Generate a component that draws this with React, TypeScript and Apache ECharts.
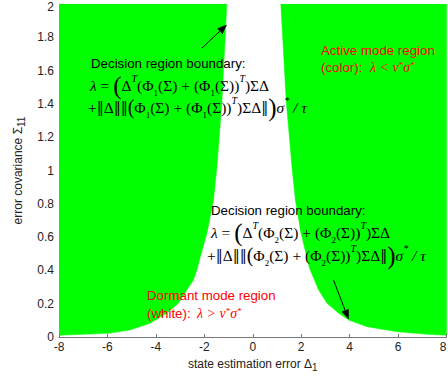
import React, { useEffect, useRef } from "react";
import * as echarts from "echarts";

// Boundary of the left (green) active region: [state estimation error, covariance]
const leftBoundary: [number, number][] = [
  [-8, 0.01], [-7.0, 0.016], [-5.96, 0.022], [-5.07, 0.042], [-4.24, 0.082],
  [-3.55, 0.142], [-3.07, 0.202], [-2.72, 0.282], [-2.45, 0.342], [-2.31, 0.402],
  [-2.05, 0.542], [-1.89, 0.625], [-1.62, 0.823], [-1.48, 1.02], [-1.27, 1.42], [-1.07, 2.0],
];
const leftCorner: [number, number] = [-8, 2];
// Boundary of the right (green) active region
const rightBoundary: [number, number][] = [
  [1.16, 2.0], [1.38, 1.42], [1.62, 1.02], [1.76, 0.823], [1.99, 0.625],
  [2.2, 0.5], [2.35, 0.41], [2.72, 0.282], [3.07, 0.202], [3.55, 0.142], [3.96, 0.102],
  [4.72, 0.062], [5.96, 0.032], [7.2, 0.016], [8, 0.01],
];
const rightCorner: [number, number] = [8, 2];

const xRange = [-8, 8];
const yRange = [0, 2];
const xName = "state estimation error Δ{sub|1}";
const yName = "error covariance Σ{sub|11}";
const boundaryTitle = "Decision region boundary:";
const activeLabel = "Active mode region";
const activeCond = "(color):";
const dormantLabel = "Dormant mode region";
const dormantCond = "(white):";

const GREEN = "#00ff00";
const RED = "#ff0000";
const SANS = '"Liberation Sans", Arial, sans-serif';
const SERIF = '"Liberation Serif", "Times New Roman", serif';
const SERIF2 = '"DejaVu Serif", serif';

function arrow(x1: number, y1: number, x2: number, y2: number): any[] {
  const dx = x2 - x1, dy = y2 - y1;
  const len = Math.sqrt(dx * dx + dy * dy);
  const ux = dx / len, uy = dy / len;
  const hl = 9, hw = 3.5;
  const bx = x2 - ux * hl, by = y2 - uy * hl;
  return [
    { type: "line", z: 100, shape: { x1, y1, x2: bx, y2: by }, style: { stroke: "#000", lineWidth: 1 } },
    {
      type: "polygon", z: 100,
      shape: { points: [[x2, y2], [bx - uy * hw, by + ux * hw], [bx + uy * hw, by - ux * hw]] },
      style: { fill: "#000", stroke: "#000", lineWidth: 0.5 },
    },
  ];
}

const FS = 15.5;
const mathRich = {
  i: { fontFamily: SERIF, fontSize: FS, fontStyle: "italic" as const, fill: "#000" },
  b: { fontFamily: SERIF, fontSize: 25, fill: "#000", lineHeight: 24 },
  m: { fontFamily: SERIF, fontSize: 20, fill: "#000", lineHeight: 22 },
  n: { fontFamily: SERIF2, fontSize: 14, fill: "#000" },
  sp: { fontFamily: SERIF, fontSize: 10, fontStyle: "italic" as const, verticalAlign: "top" as const, lineHeight: 20, fill: "#000" },
  sb: { fontFamily: SERIF, fontSize: 9, verticalAlign: "bottom" as const, lineHeight: 19, fill: "#000" },
};

function formula(x: number, y: number, text: string): any {
  return {
    type: "text", z: 100, x, y,
    style: {
      text, rich: mathRich, fontFamily: SERIF, fontSize: FS, fill: "#000",
      verticalAlign: "middle", align: "left",
    },
  };
}

function label(x: number, y: number, text: string, color: string): any {
  return {
    type: "text", z: 100, x, y,
    style: { text, fontFamily: SANS, fontSize: 13.3, fill: color, verticalAlign: "middle", align: "left" },
  };
}

function redMath(x: number, y: number, text: string): any {
  return {
    type: "text", z: 100, x, y,
    style: {
      text, fontFamily: SERIF, fontSize: 14, fontStyle: "italic", fill: RED, verticalAlign: "middle", align: "left",
      rich: { s: { fontFamily: SERIF, fontSize: 9, fill: RED, verticalAlign: "top", lineHeight: 14 } },
    },
  };
}

function regionSeries(boundary: [number, number][], corner: [number, number]): any {
  const pts = [...boundary, corner];
  return {
    type: "custom", coordinateSystem: "cartesian2d", silent: true, clip: true,
    data: [[corner[0], corner[1]]],
    renderItem: (_p: any, api: any) => ({
      type: "polygon",
      shape: { points: pts.map((p) => api.coord(p)) },
      style: { fill: GREEN, stroke: GREEN, lineWidth: 0.5 },
    }),
  };
}

export default function App() {
  const ref = useRef<HTMLDivElement>(null);
  useEffect(() => {
    if (!ref.current) return;
    const chart = echarts.init(ref.current, undefined, { renderer: "svg" });
    const line1 = (k: string) => `{i|λ} = {b|(}Δ{sp|T}(Φ{sb|${k}}(Σ) + (Φ{sb|${k}}(Σ)){sp|T})ΣΔ`;
    const line2 = (k: string) => `+{n|‖}Δ{n|‖‖}{m|(}Φ{sb|${k}}(Σ) + (Φ{sb|${k}}(Σ)){sp|T})ΣΔ{n|‖}{b|)}{i|σ}{sp|*}{i| / τ}`;
    const nameStyle = {
      fontFamily: SANS, fontSize: 12, color: "#222",
      rich: { sub: { fontFamily: SANS, fontSize: 10, color: "#222", padding: [7, 0, 0, 0] } },
    };
    chart.setOption({
      animation: false,
      backgroundColor: "#fff",
      grid: { left: 59, right: 1.5, top: 4, bottom: 46, containLabel: false, outerBoundsMode: "none" },
      xAxis: {
        type: "value", min: xRange[0], max: xRange[1], interval: 2, z: 5,
        name: xName, nameLocation: "middle", nameGap: 9, nameTextStyle: nameStyle,
        axisLine: { show: true, onZero: false, lineStyle: { color: "#777", width: 1 } },
        axisTick: { show: true, inside: true, length: 3, lineStyle: { color: "#777" } },
        axisLabel: { fontFamily: SANS, fontSize: 12, color: "#222", margin: 4, alignMaxLabel: "right" },
        splitLine: { show: false },
      },
      yAxis: {
        type: "value", min: yRange[0], max: yRange[1], interval: 0.2,
        name: yName, nameLocation: "middle", nameGap: 28, nameTextStyle: nameStyle,
        axisLine: { show: true, onZero: false, lineStyle: { color: "#777", width: 1 } },
        axisTick: { show: true, inside: true, length: 3, lineStyle: { color: "#777" } },
        axisLabel: {
          fontFamily: SANS, fontSize: 12, color: "#222", margin: 5,
          verticalAlignMaxLabel: "top",
          formatter: (v: number) => (v >= yRange[1] ? `{t|${+v.toFixed(1)}}` : String(+v.toFixed(1))),
          rich: { t: { fontFamily: SANS, fontSize: 12, color: "#222", lineHeight: 6 } },
        },
        splitLine: { show: false },
      },
      series: [regionSeries(leftBoundary, leftCorner), regionSeries(rightBoundary, rightCorner)],
      graphic: [
        label(91, 63, boundaryTitle, "#000"),
        formula(90, 85, line1("1")),
        formula(88, 107, line2("1")),
        label(211, 210, boundaryTitle, "#000"),
        formula(211, 232, line1("2")),
        formula(207, 255, line2("2")),
        label(321, 50, activeLabel, RED),
        label(321, 67, activeCond, RED),
        redMath(370, 67, "λ < ν{s|*}σ{s|*}"),
        label(147, 295, dormantLabel, RED),
        label(147, 313, dormantCond, RED),
        redMath(197, 313, "λ > ν{s|*}σ{s|*}"),
        ...arrow(202, 48, 226.5, 25),
        ...arrow(333.5, 280, 348.5, 319),
      ],
    });
    return () => chart.dispose();
  }, []);
  return <div ref={ref} style={{ position: "fixed", left: 0, top: 0, width: 448, height: 383 }} />;
}
